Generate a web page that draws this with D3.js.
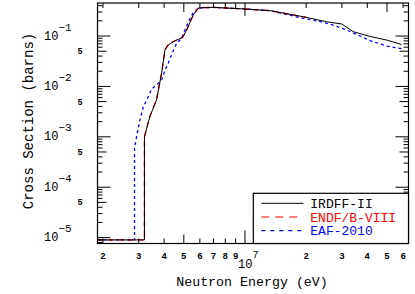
<!DOCTYPE html>
<html lang="en">
<head>
    <meta charset="UTF-8">
    <title>Cross section</title>
    <style>
        body { margin: 0; background: #fff; }
        .chart text { font-family: "Liberation Mono", "DejaVu Sans Mono", monospace; }
        .tick-line { stroke: #000; stroke-width: 1; }
    </style>
</head>
<body>
<div class="chart"></div>
<script src="https://d3js.org/d3.v7.min.js"></script>
<script>
// data
var energyIrdff = [1.88e6, 3.2e6, 3.2e6, 3.4e6, 3.67e6, 3.89e6, 4.04e6, 4.19e6, 4.43e6, 4.93e6, 5.16e6, 5.56e6, 5.89e6, 6.23e6, 7e6, 8e6, 1e7, 1.33e7, 1.94e7, 2.52e7, 3.0e7, 3.41e7, 4.05e7, 4.99e7, 5.9e7];
var sigmaIrdff = [9e-6, 9e-6, 1.0e-3, 2.5e-3, 5.4e-3, 1.85e-2, 5.3e-2, 6.6e-2, 7.7e-2, 9.4e-2, 0.131, 0.261, 0.355, 0.365, 0.37, 0.36, 0.344, 0.318, 0.241, 0.192, 0.173, 0.122, 0.1, 0.083, 0.068];

var energyEndf = [1.88e6, 3.2e6, 3.2e6, 3.4e6, 3.67e6, 3.89e6, 4.04e6, 4.19e6, 4.43e6, 4.93e6, 5.16e6, 5.56e6, 5.89e6, 6.23e6, 7e6, 8e6, 1e7, 1.33e7, 2e7];
var sigmaEndf = [9e-6, 9e-6, 1.0e-3, 2.5e-3, 5.5e-3, 1.9e-2, 5.4e-2, 6.7e-2, 7.8e-2, 9.4e-2, 0.13, 0.26, 0.355, 0.365, 0.37, 0.36, 0.344, 0.318, 0.236];

var energyEaf = [1.88e6, 2.86e6, 2.86e6, 2.87e6, 2.95e6, 3.04e6, 3.16e6, 3.34e6, 3.47e6, 3.74e6, 3.89e6, 4.04e6, 4.19e6, 4.35e6, 4.61e6, 4.88e6, 5.06e6, 5.32e6, 5.56e6, 5.89e6, 6.21e6, 7e6, 8e6, 1e7, 1.33e7, 1.94e7, 2.17e7, 2.62e7, 3.17e7, 3.69e7, 4.13e7, 4.99e7, 5.9e7];
var sigmaEaf = [9e-6, 9e-6, 6.0e-4, 6.4e-4, 1.19e-3, 2.15e-3, 3.95e-3, 6.2e-3, 8.8e-3, 1.15e-2, 1.34e-2, 2.1e-2, 2.9e-2, 4.2e-2, 7.2e-2, 9.0e-2, 0.131, 0.207, 0.29, 0.355, 0.365, 0.37, 0.36, 0.344, 0.318, 0.224, 0.207, 0.173, 0.131, 0.1, 0.081, 0.063, 0.056];

var seriesNames = ["IRDFF-II", "ENDF/B-VIII", "EAF-2010"];
var seriesColors = ["#000000", "#ff0000", "#0000ff"];
var seriesDash = [null, "6,4", "3,3"];

var xMinorLabels = [2e6, 3e6, 4e6, 5e6, 6e6, 7e6, 8e6, 9e6, 2e7, 3e7, 4e7, 5e7, 6e7];
var xDecadeLabels = [1e7];
var yDecadeLabels = [1e-5, 1e-4, 1e-3, 1e-2, 1e-1];
var yFiveLabels = [5e-5, 5e-4, 5e-3, 5e-2];

var xTitle = "Neutron Energy (eV)";
var yTitle = "Cross Section (barns)";

var margin = {top: 3, right: 6.5, bottom: 50.5, left: 97.5};
var W = 415, H = 294,
    w = W - margin.left - margin.right,
    h = H - margin.top - margin.bottom;

var svg = d3.select(".chart").append("svg")
    .attr("width", W)
    .attr("height", H);

var g = svg.append("g")
    .attr("transform", "translate(" + margin.left + "," + margin.top + ")");

var xscale = d3.scaleLog()
    .domain([1.88e6, 6.38e7])
    .range([0, w]);

var yscale = d3.scaleLog()
    .domain([7.64e-6, 0.452])
    .range([h, 0]);

// all tick positions 1..9 x decade inside the domain
function logTicks(scale) {
    var dom = scale.domain(), out = [];
    var lo = Math.floor(Math.log10(dom[0])), hi = Math.ceil(Math.log10(dom[1]));
    for (var p = lo; p <= hi; p++) {
        for (var m = 1; m <= 9; m++) {
            var v = m * Math.pow(10, p);
            if (v >= dom[0] && v <= dom[1]) out.push({v: v, m: m});
        }
    }
    return out;
}
function tickLen(m) { return m === 1 ? 13 : (m === 5 ? 9 : 5); }

g.append("clipPath").attr("id", "clip")
    .append("rect").attr("width", w).attr("height", h);

var lineGenerator = d3.line()
    .x(function(d) { return xscale(d[0]); })
    .y(function(d) { return yscale(d[1]); });

var series = [
    d3.zip(energyEaf, sigmaEaf),
    d3.zip(energyEndf, sigmaEndf),
    d3.zip(energyIrdff, sigmaIrdff)
];
var order = [2, 1, 0];

g.append("g").attr("clip-path", "url(#clip)")
    .selectAll("path")
    .data(series)
    .enter()
    .append("path")
        .attr("fill", "none")
        .attr("stroke", function(d, i) { return seriesColors[order[i]]; })
        .attr("stroke-width", function(d, i) { return order[i] === 0 ? 1 : 1.3; })
        .attr("stroke-dasharray", function(d, i) { return seriesDash[order[i]]; })
        .attr("d", lineGenerator);

// ticks on all four sides, pointing inward
var xt = logTicks(xscale), yt = logTicks(yscale);

g.selectAll(".xb").data(xt).enter().append("line")
    .attr("class", "tick-line")
    .attr("x1", function(d) { return xscale(d.v); })
    .attr("x2", function(d) { return xscale(d.v); })
    .attr("y1", h).attr("y2", function(d) { return h - tickLen(d.m); });
g.selectAll(".xt").data(xt).enter().append("line")
    .attr("class", "tick-line")
    .attr("x1", function(d) { return xscale(d.v); })
    .attr("x2", function(d) { return xscale(d.v); })
    .attr("y1", 0).attr("y2", function(d) { return tickLen(d.m); });
g.selectAll(".yl").data(yt).enter().append("line")
    .attr("class", "tick-line")
    .attr("y1", function(d) { return yscale(d.v); })
    .attr("y2", function(d) { return yscale(d.v); })
    .attr("x1", 0).attr("x2", function(d) { return tickLen(d.m); });
g.selectAll(".yr").data(yt).enter().append("line")
    .attr("class", "tick-line")
    .attr("y1", function(d) { return yscale(d.v); })
    .attr("y2", function(d) { return yscale(d.v); })
    .attr("x1", w).attr("x2", function(d) { return w - tickLen(d.m); });

// frame
g.append("rect")
    .attr("width", w).attr("height", h)
    .attr("fill", "none").attr("stroke", "#000").attr("stroke-width", 1.2);

// x tick labels
g.selectAll(".xlab").data(xMinorLabels).enter().append("text")
    .attr("x", function(d) { return xscale(d); })
    .attr("y", h + 15)
    .attr("text-anchor", "middle")
    .attr("font-size", 9).attr("font-weight", "bold")
    .text(function(d) { return String(Math.round(d / Math.pow(10, Math.floor(Math.log10(d))))); });

xDecadeLabels.forEach(function(d) {
    var t = g.append("text")
        .attr("x", xscale(d) - 7)
        .attr("y", h + 24.5)
        .attr("font-size", 12);
    t.append("tspan").text("10");
    t.append("tspan").attr("dy", -10).attr("font-size", 10).text(Math.round(Math.log10(d)));
});

// y tick labels
yDecadeLabels.forEach(function(d) {
    var t = g.append("text")
        .attr("x", 44 - margin.left)
        .attr("y", yscale(d) + 3.5)
        .attr("font-size", 12);
    t.append("tspan").text("10");
    t.append("tspan").attr("dy", -9).attr("font-size", 11).text("\u2212" + Math.round(-Math.log10(d)));
});
g.selectAll(".ylab5").data(yFiveLabels).enter().append("text")
    .attr("x", 80 - margin.left)
    .attr("y", function(d) { return yscale(d) + 3; })
    .attr("text-anchor", "middle")
    .attr("font-size", 8.5).attr("font-weight", "bold")
    .text("5");

// axis titles
svg.append("text")
    .attr("x", 252).attr("y", 286)
    .attr("text-anchor", "middle")
    .attr("font-size", 13.3)
    .text(xTitle);
svg.append("text")
    .attr("transform", "translate(33,121) rotate(-90)")
    .attr("text-anchor", "middle")
    .attr("font-size", 14)
    .text(yTitle);

// legend
var lx = 253.3, ly = 193.3;
var legend = svg.append("g");
legend.append("rect")
    .attr("x", lx).attr("y", ly)
    .attr("width", margin.left + w - lx).attr("height", margin.top + h - ly)
    .attr("fill", "#fff").attr("stroke", "#000").attr("stroke-width", 1.2);
var legendDash = [null, "8,6", "4,5"];
seriesNames.forEach(function(name, i) {
    var yy = ly + 10 + i * 13.7;
    legend.append("line")
        .attr("x1", lx + 8).attr("x2", lx + 50)
        .attr("y1", yy).attr("y2", yy)
        .attr("stroke", seriesColors[i])
        .attr("stroke-width", i === 0 ? 1 : 1.2)
        .attr("stroke-dasharray", legendDash[i]);
    legend.append("text")
        .attr("x", lx + 57).attr("y", yy + 4.5)
        .attr("font-size", 13)
        .attr("fill", seriesColors[i])
        .text(name);
});
</script>
</body>
</html>
